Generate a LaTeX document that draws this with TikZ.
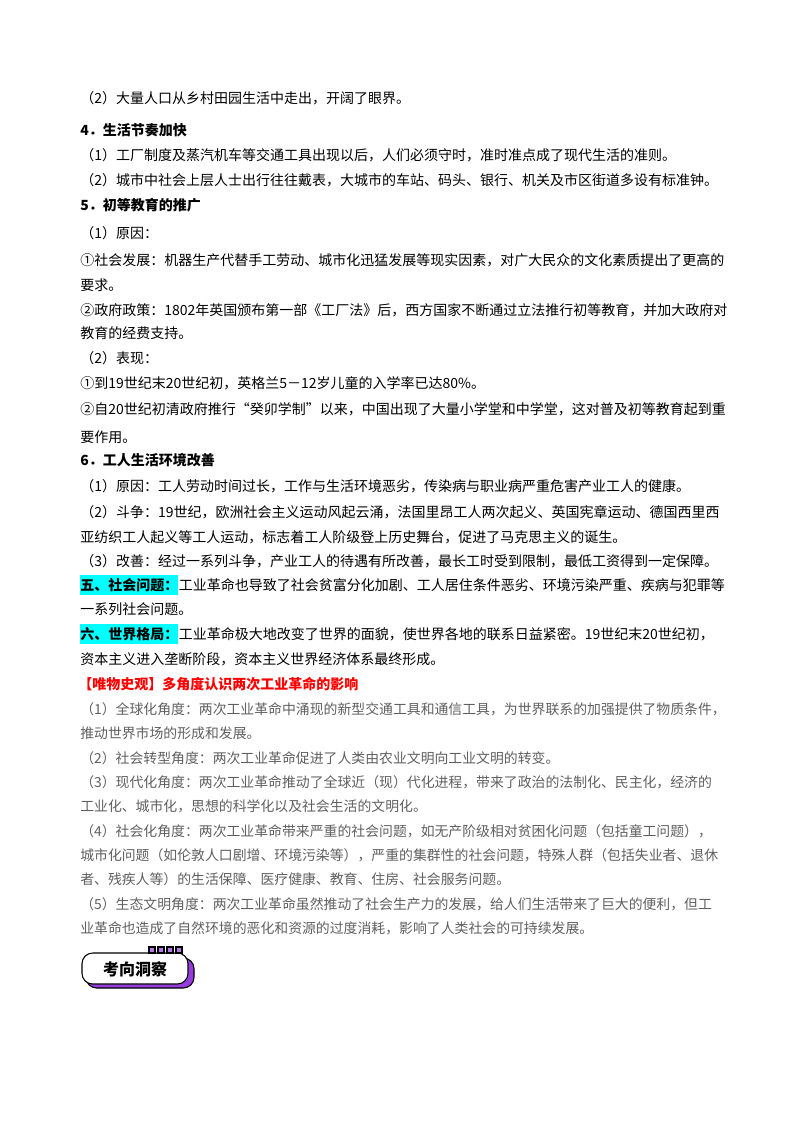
\documentclass[tikz,border=0pt]{standalone}
\usepackage{fontspec}
\setmainfont{Noto Sans CJK SC}
\usetikzlibrary{positioning}
\definecolor{hlcyan}{RGB}{0,255,255}
\definecolor{viewred}{RGB}{255,0,0}
\definecolor{notegray}{RGB}{95,95,95}
\definecolor{badgepurple}{RGB}{150,60,220}
\tikzset{
  ln/.style={anchor=base west,inner sep=0pt,font=\fontsize{10.5}{12}\selectfont},
  hd/.style={ln,font=\fontsize{10.5}{12}\selectfont\bfseries},
  hl/.style={hd,fill=hlcyan,inner ysep=2pt,text depth=2pt},
  nt/.style={ln,text=notegray,font=\fontsize{10.4}{12}\selectfont},
}
\begin{document}
\begin{tikzpicture}[x=0.75pt,y=-0.75pt]
  \useasboundingbox (0,0) rectangle (800,1132);
  % section 4
  \node[ln] (a1) at (80,103) {（2）大量人口从乡村田园生活中走出，开阔了眼界。};
  \node[hd] (h4) at (80,135) {4．生活节奏加快};
  \node[ln] (a2) at (80,160) {（1）工厂制度及蒸汽机车等交通工具出现以后，人们必须守时，准时准点成了现代生活的准则。};
  \node[ln] (a3) at (80,185) {（2）城市中社会上层人士出行往往戴表，大城市的车站、码头、银行、机关及市区街道多设有标准钟。};
  % section 5
  \node[hd] (h5) at (80,210) {5．初等教育的推广};
  \node[ln] (b1) at (80,238) {（1）原因：};
  \node[ln] (b2) at (80,265) {①社会发展：机器生产代替手工劳动、城市化迅猛发展等现实因素，对广大民众的文化素质提出了更高的};
  \node[ln] (b3) at (80,290) {要求。};
  \node[ln] (b4) at (80,315) {②政府政策：1802年英国颁布第一部《工厂法》后，西方国家不断通过立法推行初等教育，并加大政府对};
  \node[ln] (b5) at (80,338) {教育的经费支持。};
  \node[ln] (b6) at (80,363) {（2）表现：};
  \node[ln] (b7) at (80,388) {①到19世纪末20世纪初，英格兰5－12岁儿童的入学率已达80\%。};
  \node[ln] (b8) at (80,414) {②自20世纪初清政府推行“癸卯学制”以来，中国出现了大量小学堂和中学堂，这对普及初等教育起到重};
  \node[ln] (b9) at (80,442) {要作用。};
  % section 6
  \node[hd] (h6) at (80,465) {6．工人生活环境改善};
  \node[ln] (c1) at (80,491) {（1）原因：工人劳动时间过长，工作与生活环境恶劣，传染病与职业病严重危害产业工人的健康。};
  \node[ln] (c2) at (80,517) {（2）斗争：19世纪，欧洲社会主义运动风起云涌，法国里昂工人两次起义、英国宪章运动、德国西里西};
  \node[ln] (c3) at (80,542) {亚纺织工人起义等工人运动，标志着工人阶级登上历史舞台，促进了马克思主义的诞生。};
  \node[ln] (c4) at (80,566) {（3）改善：经过一系列斗争，产业工人的待遇有所改善，最长工时受到限制，最低工资得到一定保障。};
  % five and six
  \node[hl] (h7) at (80,590) {五、社会问题：};
  \node[ln,right=0pt of h7.base east,anchor=base west] (d1) {工业革命也导致了社会贫富分化加剧、工人居住条件恶劣、环境污染严重、疾病与犯罪等};
  \node[ln] (d2) at (80,614) {一系列社会问题。};
  \node[hl] (h8) at (80,639) {六、世界格局：};
  \node[ln,right=0pt of h8.base east,anchor=base west] (d3) {工业革命极大地改变了世界的面貌，使世界各地的联系日益紧密。19世纪末20世纪初，};
  \node[ln] (d4) at (80,664) {资本主义进入垄断阶段，资本主义世界经济体系最终形成。};
  % view note
  \node[hd,text=viewred] (h9) at (78,689) {【唯物史观】多角度认识两次工业革命的影响};
  \node[nt] (e1) at (80,714) {（1）全球化角度：两次工业革命中涌现的新型交通工具和通信工具，为世界联系的加强提供了物质条件，};
  \node[nt] (e2) at (80,738) {推动世界市场的形成和发展。};
  \node[nt] (e3) at (80,763) {（2）社会转型角度：两次工业革命促进了人类由农业文明向工业文明的转变。};
  \node[nt] (e4) at (80,787) {（3）现代化角度：两次工业革命推动了全球近（现）代化进程，带来了政治的法制化、民主化，经济的};
  \node[nt] (e5) at (80,811) {工业化、城市化，思想的科学化以及社会生活的文明化。};
  \node[nt] (e6) at (80,836) {（4）社会化角度：两次工业革命带来严重的社会问题，如无产阶级相对贫困化问题（包括童工问题），};
  \node[nt] (e7) at (80,860) {城市化问题（如伦敦人口剧增、环境污染等），严重的集群性的社会问题，特殊人群（包括失业者、退休};
  \node[nt] (e8) at (80,884) {者、残疾人等）的生活保障、医疗健康、教育、住房、社会服务问题。};
  \node[nt] (e9) at (80,909) {（5）生态文明角度：两次工业革命虽然推动了社会生产力的发展，给人们生活带来了巨大的便利，但工};
  \node[nt] (e10) at (80,933) {业革命也造成了自然环境的恶化和资源的过度消耗，影响了人类社会的可持续发展。};
  % badge
  \fill[badgepurple,draw=black,line width=0.8pt,rounded corners=8pt] (86,958) rectangle (194,988);
  \fill[white,draw=black,line width=0.8pt,rounded corners=8pt] (82,953) rectangle (188,984);
  \foreach \i in {0,1,2,3}
    \draw[black,line width=1pt,fill=badgepurple!70] (149+\i*9,947) rectangle (155+\i*9,953);
  \node[font=\fontsize{12}{12}\selectfont\bfseries] (badge) at (135,969) {考向洞察};
\end{tikzpicture}
\end{document}
